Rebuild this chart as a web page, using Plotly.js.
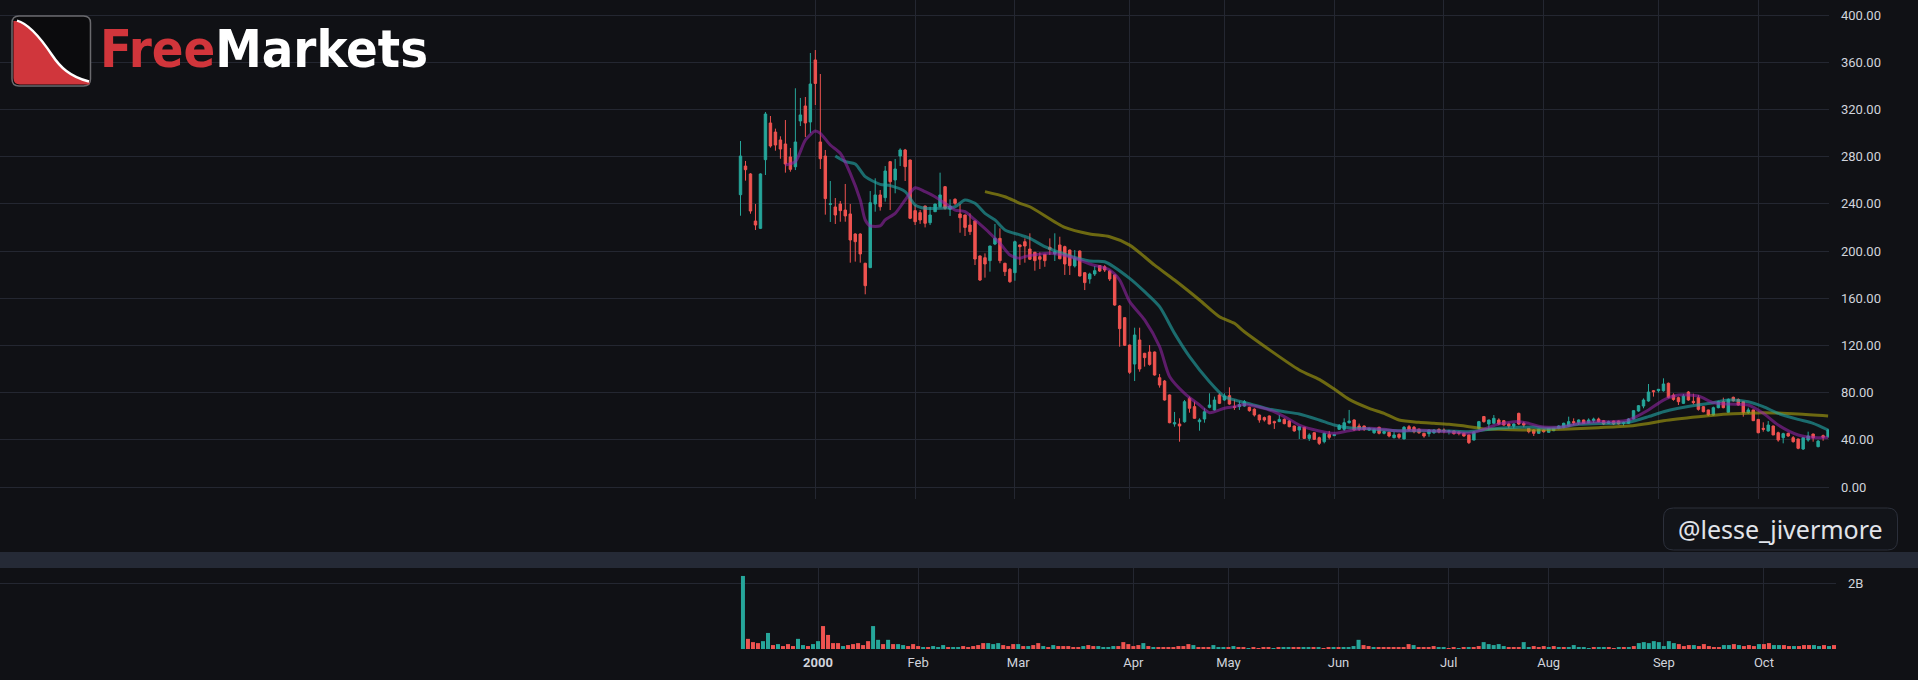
<!DOCTYPE html>
<html>
<head>
<meta charset="utf-8">
<script src="https://cdn.plot.ly/plotly-3.0.1.min.js"></script>
<style>
html,body{margin:0;padding:0;background:#101115;overflow:hidden;}
#chart{width:1918px;height:680px;}
</style>
</head>
<body>
<div id="chart"></div>
<script>
// ---------- calendar (categories) ----------
const firstDay = '1999-12-10';
const lastDay = '2000-10-20';
const holidays = ['1999-12-24','2000-01-17','2000-02-21','2000-04-21','2000-05-29','2000-07-04','2000-09-04'];
function tradingDays(){
  const out = [];
  let d = new Date(firstDay + 'T00:00:00Z');
  const end = new Date(lastDay + 'T00:00:00Z');
  while (d <= end) {
    const s = d.toISOString().slice(0,10);
    const wd = d.getUTCDay();
    if (wd !== 0 && wd !== 6 && holidays.indexOf(s) < 0) out.push(s);
    d = new Date(d.getTime() + 86400000);
  }
  return out;
}
const dates = tradingDays();

// ---------- price data ----------
const openPx = [
247.7,272,265.3,225.4,219.2,277.4,308.5,300.8,294.1,290.7,
279.7,271.4,310.2,322.9,309.3,361.9,292.4,280.5,239.5,237.3,
239.8,234.7,231.4,214.4,214.4,189.6,185.9,239.8,247.5,245.2,
275.7,260.2,280.5,285.6,277.1,234.2,232.5,238.1,224,233.3,
237.5,254.5,235.4,243.8,231.4,230.5,222,225.4,195.8,194.3,
191.8,205.9,210.7,189.6,184.5,181.6,205.1,207.9,201.7,198.9,
195.2,197.2,203.1,197.5,205.1,203.7,200.8,187.3,200,181.6,
176.3,180.5,187.6,186.6,183,179.7,153.4,143.5,120.3,104.2,
124.6,113.3,114.4,114.4,92.6,89.8,78,53.4,53.4,55.3,
75.2,68.1,55.3,57.6,67.5,65.3,78,73.7,77.4,68.1,
68.1,68.6,67.5,65.9,61,58.8,60.2,55.4,55.4,57.3,
55.9,51.7,48.3,50.6,41.2,46,41.8,38.4,44.6,43.5,
48.9,48.9,54.5,56.8,51.7,51.7,48.3,46,50.6,45.5,
46.4,41.8,44.6,40.7,51.1,50.6,49,45.5,45.2,46,
48.9,48.3,47,47.5,46.4,45.5,44.1,39.8,49.7,59.7,
53.4,54,56.8,56.2,53.4,51.7,62.4,54,49.7,48.3,
45.5,48.3,46.3,47.7,49.7,50.6,51.7,55.4,54.5,56.8,
54.5,56.2,57.6,56.2,54,55.9,55.9,54,54,57.6,
64.4,68.6,72.9,81.6,81.6,81.6,87.9,77.9,75.7,70.9,
80.5,72.6,75.7,68.1,65.3,61,67.2,72.3,63.3,76,
74.2,72.3,63,65.3,57.3,49.7,47.5,51.7,46,41.8,
45.5,41.8,40.7,32.2,39.8,44.9,34.2,43.5,42.6];
const highPx = [
293.2,276.3,266,239.8,265.8,317.8,314.4,303.7,297.2,311,
287.3,337.9,329.7,330.5,367.8,370.3,350,285.6,259.3,244.9,
242.4,256.8,239.8,215,215,190,250.8,261.6,251.7,272,
276.3,278,287,286.5,277.5,239,234.7,238.5,237.5,240,
266.4,255,243.8,244.7,239.8,230.8,231.9,225.8,196.2,198,
204.5,222.9,219.2,190,185.5,208.8,205.5,210.7,215,199.3,
198.9,197.6,210.7,215,212.1,204.5,201.2,200.8,200.4,182,
181.6,187.3,188,188,184,180.1,154.2,143.9,120.7,135,
135,113.7,120.3,114.8,95.8,90.7,78.4,63.6,58.2,73.7,
76.6,72.3,58.2,66.7,79.4,76.6,79.4,79.4,84.5,74,
72.6,73.7,68,66.7,61.4,59.7,60.6,56.2,61,58.2,
56.8,52,51.5,51,45.5,46.4,42.7,46,47.5,44.6,
53.4,58.2,65.3,57.3,53.7,52,50.5,49.7,51.1,47.7,
46.9,46.9,45.5,51.7,52.5,51.7,49.5,46,48.9,48.9,
49.7,49.7,48.5,47.9,47.5,46.4,44.5,47.5,56,60.2,
57,61,58.2,56.8,54.5,54,63,55.4,50,48.9,
49.2,48.9,49.9,50,52.3,54.5,59.6,58.2,57.3,57,
58.2,58.8,58.8,56.8,56.2,56.2,56.2,55.4,58.2,64.9,
69.5,75.1,87.3,82.2,82.8,92.1,88.5,79.4,76.6,78.8,
81.3,79.1,77.9,68.6,65.5,68.1,73.1,75.7,75.1,76.6,
75.1,72.5,67.2,65.5,57.5,54.8,55.9,52,46.9,46,
46,43.2,41,41.8,46.9,45.2,39.8,44.4,48.9];
const lowPx = [
229.9,259.6,231.6,217.8,218.6,264.4,287.6,285,278.2,266.4,
267.2,268.6,305.9,296.6,300,323.7,269.5,230.8,224.6,222.9,
224.8,224.8,190.1,191,190.1,163.3,185.5,233.3,234.2,241.8,
234.7,248.9,272,259.3,227,222,223,220,222,233,
237,235,229.7,239,215.5,212.7,213.6,188.1,174.6,177.4,
182.5,205,189.6,178.8,173,174.8,188.1,190.1,192.4,183.3,
184.7,186.6,196.6,191.5,193,179.7,179.7,186,178.5,166.9,
172.3,178.8,182.2,182.2,174.6,153.6,118.9,119.5,95.8,89.8,
97.7,102,102.8,94.4,84.2,73.2,54,51.1,38.4,54.5,
63,58,47.7,54.5,66.7,64.7,70.3,73,69.7,65.3,
65.3,68,63.8,59.7,54.5,55.4,53.1,49.2,55,53.1,
50.6,46.9,40.7,40.7,39,39.8,35.6,37,40.4,43.2,
48.3,47.5,53.7,47.7,47.5,47.5,47.5,45,44.6,44.6,
42.1,41.2,40.7,40.5,47.5,45.5,45,41.8,42.6,45,
45.5,45.5,44.5,44.4,43.8,42.7,36.4,39.5,48.9,54.5,
48.3,53.7,52.5,52,49.7,49.7,52.5,50.6,45.5,43.2,
45,46,46,47.3,48.9,49.7,51.1,52.5,52.5,53.4,
54,54.5,54.8,52.5,53.4,52.5,53,52,53.4,57.3,
63.8,66.7,72.3,76.6,80,80.8,75.1,73.1,69.5,70.3,
73.1,70,64.7,63.3,60.2,60.5,66.7,66.7,63,72.3,
68.9,59.6,61.9,55.9,45.5,46.9,46.9,44,38.4,37,
42.6,37.6,32,31.4,38.4,38.4,33.6,39.2,41.8];
const closePx = [
280.5,268.9,233.9,222,265.3,316.1,289,289.8,286.4,273.7,
269.2,292.4,315.3,308.5,341.5,342,278.2,244.4,240,230.5,
234.2,229.7,209.3,207.9,197.5,170.6,240.9,247.5,237.5,267.8,
258.7,269.5,285.6,271.5,227.7,224.8,226.3,223.5,230.5,239.8,
247.5,236.2,238.1,240.4,228.2,220,216.4,193.2,175.4,189,
204.2,210.7,191.8,182.5,174,207.9,203.7,204.2,193,191.8,
193,191.8,201.4,199.4,193.4,189,187.6,193.8,178.8,173.2,
180.5,183.3,183,183.9,176.3,154.2,134.2,120.1,97.2,128.8,
100,109.6,103.9,94.9,86.4,73.7,54.5,54.5,51.7,72.3,
66.7,58.2,56.8,63.8,69.5,73.7,70.9,77.1,70.3,67.5,
69.8,72.3,64.7,61,56.8,56.8,53.4,54.5,57.3,53.7,
51.1,47.5,51.1,41.2,44.1,40.4,37,45.5,42.1,44.4,
52,54.5,55.9,48.3,49.2,48.9,49.7,48.9,45.5,46.9,
43.2,44.1,42.1,50.6,48.3,46.9,46,43.2,48.3,48.3,
46.6,47.5,47.5,45.2,45.5,43.2,37.6,46.4,55.4,55.4,
56.8,58.2,53.4,52.5,51.7,53.4,53.4,52.5,46.9,45.5,
48.9,46.9,49.7,49.7,51.7,54,55.4,54.5,56.8,54,
56.8,57.6,55.4,53.4,55.4,53.4,53.4,54.5,57.6,64.7,
68.9,73.7,80.5,80.8,82.8,87.3,76,74.2,72.3,77.1,
73.7,71.5,65.8,63.8,61,67.2,72.3,67.2,74.2,73.1,
69.5,63,65.3,56.2,46,48.9,52.5,44.1,39.8,45.2,
43.2,38.4,32.8,41.8,43.2,41.8,38.9,42.1,48.3];

// ---------- volume (billions) and its colour direction (u = up, d = down) ----------
const volumeB = [
2.23,0.31,0.21,0.18,0.24,0.49,0.12,0.15,0.09,0.15,
0.09,0.31,0.12,0.09,0.15,0.24,0.70,0.43,0.18,0.18,
0.09,0.12,0.15,0.18,0.12,0.24,0.70,0.28,0.15,0.28,
0.15,0.15,0.12,0.09,0.15,0.09,0.06,0.06,0.09,0.06,
0.12,0.06,0.06,0.06,0.09,0.06,0.09,0.12,0.18,0.18,
0.15,0.18,0.12,0.09,0.15,0.15,0.09,0.09,0.12,0.18,
0.09,0.06,0.12,0.09,0.09,0.09,0.06,0.06,0.09,0.12,
0.09,0.09,0.06,0.06,0.09,0.09,0.21,0.15,0.09,0.12,
0.18,0.09,0.06,0.06,0.06,0.06,0.06,0.09,0.09,0.15,
0.12,0.06,0.06,0.06,0.12,0.06,0.06,0.06,0.09,0.06,
0.06,0.03,0.06,0.03,0.06,0.06,0.03,0.06,0.06,0.06,
0.06,0.06,0.06,0.06,0.06,0.06,0.03,0.06,0.06,0.06,
0.06,0.06,0.09,0.28,0.12,0.09,0.06,0.06,0.06,0.06,
0.06,0.06,0.06,0.15,0.12,0.06,0.06,0.06,0.09,0.06,
0.06,0.03,0.06,0.03,0.06,0.06,0.06,0.09,0.21,0.15,
0.12,0.15,0.09,0.06,0.06,0.06,0.21,0.06,0.09,0.06,
0.09,0.06,0.09,0.06,0.06,0.06,0.12,0.06,0.06,0.03,
0.06,0.06,0.06,0.06,0.03,0.06,0.06,0.06,0.09,0.18,
0.21,0.18,0.24,0.21,0.09,0.24,0.18,0.15,0.09,0.12,
0.12,0.09,0.15,0.09,0.06,0.06,0.12,0.12,0.15,0.12,
0.09,0.12,0.09,0.15,0.15,0.18,0.12,0.12,0.12,0.09,
0.09,0.09,0.12,0.12,0.12,0.09,0.12,0.09,0.12];
const volumeDir = ('uddduududd duuduudddd uddddduudu duuddduduu uduudddddu ' +
  'uudddududd ududddddudd uuuudddddu dudddddddu ddduuududd ' +
  'udddduduud duududdudu uuuddudddd dddudddduu ddududduuu ' +
  'uuddduuddd ududuuuuud uuddududuu uuuuuudddu ddddduudud ' +
  'ddudduuddu ddduududu').replace(/ /g,'');

// ---------- moving averages ----------
const ma10Dates = ['1999-12-23','1999-12-28','1999-12-30','2000-01-03','2000-01-04','2000-01-06','2000-01-10','2000-01-12','2000-01-14','2000-01-18',
'2000-01-19','2000-01-21','2000-01-24','2000-01-26','2000-01-28','2000-02-01','2000-02-03','2000-02-07','2000-02-09','2000-02-11',
'2000-02-15','2000-02-17','2000-02-23','2000-02-25','2000-02-29','2000-03-02','2000-03-03','2000-03-10','2000-03-17','2000-03-22',
'2000-03-28','2000-03-30','2000-04-03','2000-04-06','2000-04-11','2000-04-13','2000-04-18','2000-04-24','2000-04-26','2000-05-01',
'2000-05-03','2000-05-05','2000-05-12','2000-05-17','2000-05-22','2000-05-26','2000-06-01','2000-06-06','2000-06-12','2000-06-15',
'2000-06-20','2000-06-26','2000-06-29','2000-07-05','2000-07-11','2000-07-14','2000-07-19','2000-07-25','2000-07-27','2000-07-31',
'2000-08-02','2000-08-07','2000-08-10','2000-08-16','2000-08-21','2000-08-24','2000-08-30','2000-09-05','2000-09-08','2000-09-14',
'2000-09-19','2000-09-22','2000-09-28','2000-10-03','2000-10-06','2000-10-12','2000-10-17','2000-10-20'];
const ma10Values = [272.9,275.7,294,301.7,299.7,289.8,282.8,265.8,243.2,226.3,
221.2,221.2,226.3,231.9,243.2,253.6,250.3,246,240.4,234.7,
233.3,226.3,215,206.5,196.6,193.8,195.2,198,193.8,189,
183.9,175.4,157.1,141.6,119,93.7,79.4,69.5,63,66.7,
68.1,70,65.3,59.7,52.5,47.5,45.5,47.7,49.7,48.9,
47.5,48.3,47.5,46.9,45.5,48.9,53.4,55.4,53.9,51.5,
50.6,51.1,53.9,55.4,55.4,56.8,65.3,73.7,77.9,77.1,
71.4,70.3,69.5,62.4,52.5,44.1,41.9,41.9];

const ma20Dates = ['2000-01-07','2000-01-11','2000-01-13','2000-01-18','2000-01-21','2000-01-25','2000-01-28','2000-02-01','2000-02-03','2000-02-08',
'2000-02-11','2000-02-15','2000-02-17','2000-02-22','2000-02-24','2000-02-28','2000-03-02','2000-03-06','2000-03-09','2000-03-15',
'2000-03-22','2000-03-27','2000-04-03','2000-04-06','2000-04-11','2000-04-14','2000-04-19','2000-04-26','2000-05-01','2000-05-03',
'2000-05-08','2000-05-12','2000-05-17','2000-05-22','2000-05-26','2000-06-01','2000-06-06','2000-06-12','2000-06-15','2000-06-20',
'2000-06-26','2000-06-29','2000-07-05','2000-07-11','2000-07-14','2000-07-19','2000-07-25','2000-07-28','2000-08-02','2000-08-07',
'2000-08-10','2000-08-16','2000-08-21','2000-08-24','2000-08-30','2000-09-05','2000-09-08','2000-09-14','2000-09-19','2000-09-22',
'2000-09-28','2000-10-03','2000-10-06','2000-10-12','2000-10-17','2000-10-20'];
const ma20Values = [280.5,275.7,273.7,263,256.5,255.4,250.3,239,236.2,236.2,
237.5,243.2,240.4,231.9,226.3,217.8,213.6,210.7,203.7,197.2,
191.5,190.9,176.8,165.5,152.8,130.2,110.5,89.3,76.6,73.8,
70.5,65.9,63.8,61.9,56.8,52.5,50.3,49.2,48.3,47.7,
47.7,47.5,47.5,46.9,48.3,49.7,50.6,50.8,49.7,51.1,
53.1,53.9,53.9,54.8,59.6,63.8,66.7,69.5,71.4,73.7,
72.3,68.1,62.4,57.3,53.9,48.3];

const ma50Dates = ['2000-02-22','2000-02-28','2000-03-02','2000-03-06','2000-03-15','2000-03-22','2000-03-28','2000-04-03','2000-04-10','2000-04-14',
'2000-04-24','2000-04-28','2000-05-03','2000-05-05','2000-05-22','2000-05-26','2000-06-01','2000-06-06','2000-06-12','2000-06-15',
'2000-06-20','2000-06-26','2000-06-29','2000-07-05','2000-07-11','2000-07-14','2000-07-19','2000-07-27','2000-08-07','2000-08-16',
'2000-08-24','2000-08-30','2000-09-05','2000-09-14','2000-09-22','2000-09-28','2000-10-03','2000-10-12','2000-10-20'];
const ma50Values = [250.3,246,240.4,237.5,220,214.4,212.1,205,188,175.4,
158.5,144.3,138.7,131.6,99.2,91.2,83,74.3,66.7,62.4,
56.8,54.8,54,53.1,51.1,49.2,48.9,48.3,48.9,50.3,
51.7,53.9,56.2,59.6,61.9,62.4,63,61.9,60.2];

// ---------- axis labels ----------
const monthTicks = ['2000-01-03','2000-02-01','2000-03-01','2000-04-03','2000-05-01','2000-06-01','2000-07-03','2000-08-01','2000-09-01','2000-10-02'];
const monthLabels = ['<b>2000</b>','Feb','Mar','Apr','May','Jun','Jul','Aug','Sep','Oct'];
const volumeTicks = [2];
const volumeTickLabels = ['2B'];

// ---------- drawing ----------
const W = 1918, H = 680;
const BG = '#101115', GRID = '#242731', TXT = '#d1d4dc';
const UP = '#26a69a', DOWN = '#ef5350';
const fx = x => x / W;
const fy = y => 1 - y / H;
const P = (x, y) => fx(x).toFixed(5) + ',' + fy(y).toFixed(5);
function roundRect(x0, y0, x1, y1, r) {
  return 'M' + P(x0 + r, y0) + ' L' + P(x1 - r, y0) + ' Q' + P(x1, y0) + ' ' + P(x1, y0 + r) +
    ' L' + P(x1, y1 - r) + ' Q' + P(x1, y1) + ' ' + P(x1 - r, y1) +
    ' L' + P(x0 + r, y1) + ' Q' + P(x0, y1) + ' ' + P(x0, y1 - r) +
    ' L' + P(x0, y0 + r) + ' Q' + P(x0, y0) + ' ' + P(x0 + r, y0) + ' Z';
}
const curve = 'C' + P(30, 24) + ' ' + P(42, 40) + ' ' + P(52, 55) + ' C' + P(60, 67) + ' ' + P(70, 77) + ' ' + P(89, 81.5);
const redPath = 'M' + P(13.5, 21) + ' L' + P(18, 21) + ' ' + curve + ' L' + P(89, 79) + ' L' + P(89.5, 84.5) +
  ' L' + P(20, 84.5) + ' Q' + P(13.5, 84.5) + ' ' + P(13.5, 78) + ' Z';
const whitePath = 'M' + P(17, 20.6) + ' ' + curve;

const traces = [
  {
    type: 'candlestick', x: dates, open: openPx, high: highPx, low: lowPx, close: closePx,
    xaxis: 'x', yaxis: 'y', hoverinfo: 'skip', whiskerwidth: 0,
    increasing: {line: {color: UP, width: 1}, fillcolor: UP},
    decreasing: {line: {color: DOWN, width: 1}, fillcolor: DOWN}
  },
  {type: 'scatter', mode: 'lines', x: ma50Dates, y: ma50Values, xaxis: 'x', yaxis: 'y',
   line: {color: '#a09a10', width: 3, shape: 'spline', smoothing: 0.7}, opacity: 0.65, hoverinfo: 'skip'},
  {type: 'scatter', mode: 'lines', x: ma20Dates, y: ma20Values, xaxis: 'x', yaxis: 'y',
   line: {color: '#22a5a5', width: 3, shape: 'spline', smoothing: 0.7}, opacity: 0.62, hoverinfo: 'skip'},
  {type: 'scatter', mode: 'lines', x: ma10Dates, y: ma10Values, xaxis: 'x', yaxis: 'y',
   line: {color: '#9c27b0', width: 3, shape: 'spline', smoothing: 0.7}, opacity: 0.55, hoverinfo: 'skip'},
  {type: 'bar', x: dates, y: volumeB, xaxis: 'x2', yaxis: 'y2', hoverinfo: 'skip',
   marker: {color: volumeDir.split('').map(c => c === 'u' ? UP : DOWN), line: {width: 0}}}
];

const tickFont = {family: 'Roboto, "Noto Sans", sans-serif', size: 13, color: TXT};

const layout = {
  width: W, height: H,
  margin: {l: 0, r: 0, t: 0, b: 0, pad: 0},
  paper_bgcolor: BG, plot_bgcolor: BG,
  showlegend: false, dragmode: false,
  boxgap: 0.3, bargap: 0.2,
  xaxis: {
    type: 'category', domain: [0, fx(1829)], range: [-148.43, 218.18],
    tickmode: 'array', tickvals: monthTicks, showticklabels: false, ticks: '',
    showgrid: true, gridcolor: GRID, gridwidth: 1, zeroline: false, showline: false,
    rangeslider: {visible: false}, fixedrange: true, anchor: 'y'
  },
  yaxis: {
    domain: [fy(499), 1], range: [-10.17, 412.71], side: 'right', anchor: 'x',
    tickmode: 'linear', tick0: 0, dtick: 40, tickformat: '.2f', ticks: '',
    ticklabelstandoff: 11, tickfont: tickFont,
    showgrid: true, gridcolor: GRID, gridwidth: 1, zeroline: false, showline: false, fixedrange: true
  },
  xaxis2: {
    type: 'category', domain: [0, fx(1836)], range: [-148.45, 218.4], anchor: 'y2',
    tickmode: 'array', tickvals: monthTicks, ticktext: monthLabels, ticks: '',
    ticklabelstandoff: 4, tickfont: tickFont,
    showgrid: true, gridcolor: GRID, gridwidth: 1, zeroline: false, showline: false, fixedrange: true
  },
  yaxis2: {
    domain: [fy(649), fy(568)], range: [0, 2.473], side: 'right', anchor: 'x2',
    tickmode: 'array', tickvals: volumeTicks, ticktext: volumeTickLabels, ticks: '',
    ticklabelstandoff: 11, tickfont: tickFont,
    showgrid: true, gridcolor: GRID, gridwidth: 1, zeroline: false, showline: false, fixedrange: true
  },
  shapes: [
    {type: 'rect', xref: 'paper', yref: 'paper', x0: 0, x1: 1, y0: fy(568), y1: fy(552),
     fillcolor: '#252a36', line: {width: 0}, layer: 'above'},
    {type: 'path', xref: 'paper', yref: 'paper', path: roundRect(1663.5, 508, 1897.5, 550, 10),
     fillcolor: '#121419', line: {color: '#2c303b', width: 1}, layer: 'above'},
    {type: 'path', xref: 'paper', yref: 'paper', path: roundRect(12, 16, 90.5, 86, 7),
     fillcolor: '#0b0b0d', line: {color: '#6a6a6e', width: 1.5}, layer: 'above'},
    {type: 'path', xref: 'paper', yref: 'paper', path: redPath,
     fillcolor: '#d0363c', line: {width: 0}, layer: 'above'},
    {type: 'path', xref: 'paper', yref: 'paper', path: whitePath,
     line: {color: '#ffffff', width: 2.5}, layer: 'above'}
  ],
  annotations: [
    {xref: 'paper', yref: 'paper', x: fx(98), y: fy(49), xanchor: 'left', yanchor: 'middle', showarrow: false,
     text: '<span style="color:#d1353b">Free</span>Markets',
     font: {family: '"DejaVu Sans Condensed", "DejaVu Sans", sans-serif', size: 52, weight: 700, color: '#ffffff'}},
    {xref: 'paper', yref: 'paper', x: fx(1780.5), y: fy(529), xanchor: 'center', yanchor: 'middle', showarrow: false,
     text: '@lesse_jivermore', font: {family: '"Noto Sans", "Open Sans", sans-serif', size: 25, color: '#e1e4ea'}}
  ]
};

Plotly.newPlot('chart', traces, layout, {staticPlot: true, displayModeBar: false, responsive: false});
</script>
</body>
</html>
